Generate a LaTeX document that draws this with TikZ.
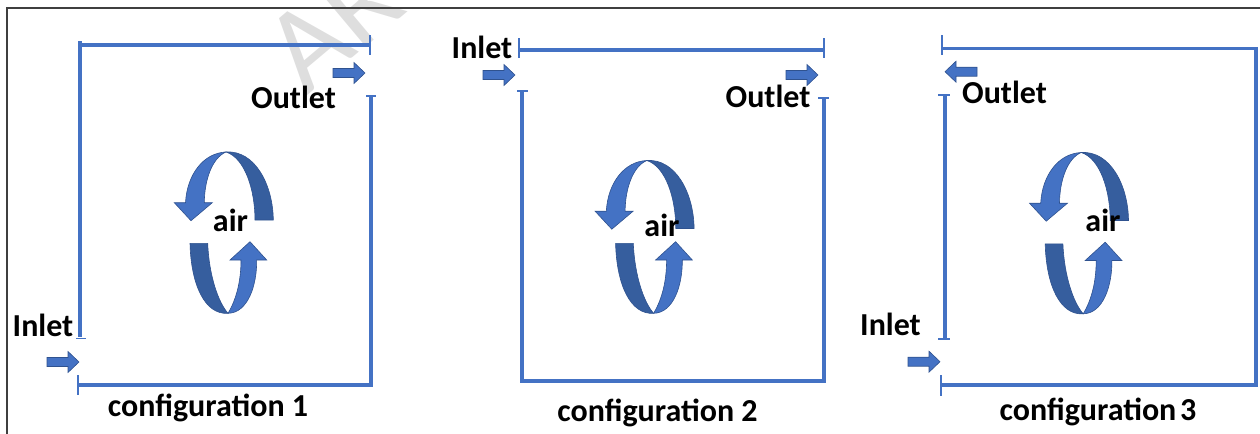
\documentclass[tikz,border=0pt]{standalone}
\usepackage{fontspec}
\setmainfont{Carlito}
\definecolor{wallblue}{HTML}{4472C4}
\definecolor{ribbonfront}{HTML}{4472C4}
\definecolor{ribbonback}{HTML}{365E9E}
\definecolor{edgeblue}{HTML}{2F528F}
\definecolor{framegray}{HTML}{3F3F3F}
\begin{document}
\begin{tikzpicture}[x=0.5pt,y=-0.5pt,
  wall/.style={draw=wallblue,line width=1.6pt,line join=miter},
  tick/.style={draw=wallblue,line width=0.7pt},
  lbl/.style={font=\bfseries\fontsize{16}{19}\selectfont,anchor=base,inner sep=0pt},
  front/.style={fill=ribbonfront,draw=edgeblue,line width=0.3pt},
  back/.style={fill=ribbonback,draw=edgeblue,line width=0.3pt},
  flowarrow/.pic={
    \path[fill=wallblue,draw=edgeblue,line width=0.3pt]
      (0,-4.5) -- (21,-4.5) -- (21,-10.5) -- (32,0) -- (21,10.5) -- (21,4.5) -- (0,4.5) -- cycle;
  },
  circulation/.pic={
    % upper ribbon: back face on the right, front face with head on the left
    \path[back] (273.3,220) -- (255,220) .. controls (255,190) and (245,158) .. (226,152)
      .. controls (255,150) and (273,185) .. (273.3,220) -- cycle;
    \path[front] (185.5,202.7) .. controls (187,175) and (203,153) .. (226,152)
      .. controls (212,158) and (204.5,180) .. (204.3,202.7) -- (212.3,202.7)
      -- (191,220.7) -- (174.3,202.7) -- cycle;
  },
  circulationlow/.pic={
    % lower ribbon: back face on the left, front face with head on the right
    \path[back] (190,243.3) -- (207.7,243.3) .. controls (209,275) and (218,302) .. (228,313.3)
      .. controls (205,315) and (191,285) .. (190,243.3) -- cycle;
    \path[front] (228,313.3) .. controls (248,313) and (257,285) .. (256.7,260) -- (266.7,260)
      -- (250,241.7) -- (230,260) -- (241,260) .. controls (241,282) and (236,300) .. (228,313.3) -- cycle;
  }]
\useasboundingbox (0,0) rectangle (1260,434);

% faint watermark behind everything
\begin{scope}
  \clip (0,0) rectangle (1260,434);
  \node[rotate=40,text=black!13,font=\fontsize{60}{60}\selectfont,anchor=base west,inner sep=0pt]
    (wm) at (306,97) {AR};
\end{scope}

% page frame
\draw[framegray,line width=0.6pt] (7,434) -- (7,8) -- (1260,8);

% ---------- configuration 1 ----------
\draw[wall] (80,41) -- (80,337);
\draw[tick] (76,338.5) -- (86,338.5);
\draw[wall] (80,45) -- (370,45);
\draw[tick] (370,35) -- (370,55);
\draw[wall] (78,385) -- (371,385) -- (371,96);
\draw[tick] (366,96) -- (376,96);
\draw[tick] (78,375) -- (78,395);
\pic at (47,362) {flowarrow};
\pic at (333,73) {flowarrow};
\pic at (0,0) {circulation};
\pic at (0,0) {circulationlow};
\node[lbl] (c1out) at (293.5,108) {Outlet};
\node[lbl] (c1in) at (43,336) {Inlet};
\node[lbl] (c1air) at (230.5,231) {air};
\node[lbl] (c1cap) at (208,416) {configuration 1};

% ---------- configuration 2 ----------
\draw[wall] (520,50) -- (824,50);
\draw[tick] (519,38.3) -- (519,58.3);
\draw[tick] (824,38.3) -- (824,58.3);
\draw[wall] (522,91) -- (522,381) -- (824,381) -- (824,98);
\draw[tick] (517,91) -- (528,91);
\draw[tick] (818,98) -- (829,98);
\pic at (483,75) {flowarrow};
\pic at (786,75) {flowarrow};
\begin{scope}[shift={(420.8,8.5)},xscale=1.06]
  \pic at (0,0) {circulation};
\end{scope}
\begin{scope}[shift={(425.6,0)},xscale=1.06]
  \pic at (0,0) {circulationlow};
\end{scope}
\node[lbl] (c2in) at (482,58.3) {Inlet};
\node[lbl] (c2out) at (768,107.3) {Outlet};
\node[lbl] (c2air) at (662,236.7) {air};
\node[lbl] (c2cap) at (657.5,421) {configuration 2};

% ---------- configuration 3 ----------
\draw[wall] (942,48.3) -- (1256,48.3) -- (1256,385) -- (941,385);
\draw[tick] (942,35) -- (942,55);
\draw[tick] (941,375) -- (941,396);
\draw[wall] (945,95) -- (945,339);
\draw[tick] (938,95) -- (950,95);
\draw[tick] (938,339) -- (950,339);
\pic[xscale=-1] at (977,71.7) {flowarrow};
\pic at (908,361.7) {flowarrow};
\begin{scope}[shift={(855.2,0.5)},xscale=1.088]
  \pic at (0,0) {circulation};
  \pic at (0,0) {circulationlow};
\end{scope}
\node[lbl] (c3out) at (1004.5,103.3) {Outlet};
\node[lbl] (c3in) at (890.5,335) {Inlet};
\node[lbl] (c3air) at (1103,231.7) {air};
\node[lbl] (c3cap) at (1098,420.7) {configuration\hspace{0.12em}3};
\end{tikzpicture}
\end{document}
